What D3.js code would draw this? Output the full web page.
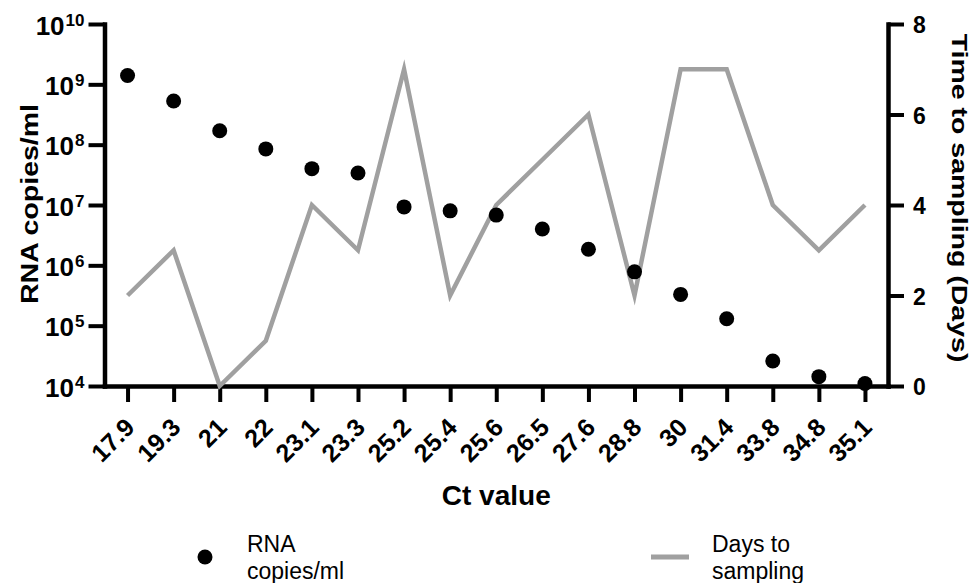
<!DOCTYPE html>
<html>
<head>
<meta charset="utf-8">
<script src="https://cdn.jsdelivr.net/npm/d3@7"></script>
<style>
  html, body { margin: 0; padding: 0; background: #fff; }
  svg { display: block; }
  text { font-family: "Liberation Sans", Arial, sans-serif; fill: #000; }
</style>
</head>
<body>
<svg id="chart" width="976" height="583"></svg>
<script>
// ---- data ----
const ctValues = ["17.9","19.3","21","22","23.1","23.3","25.2","25.4","25.6","26.5","27.6","28.8","30","31.4","33.8","34.8","35.1"];
const rnaCopies = [1.4e9, 5.3e8, 1.7e8, 8.5e7, 4.0e7, 3.4e7, 9.3e6, 8.0e6, 6.8e6, 4.0e6, 1.85e6, 7.8e5, 3.3e5, 1.3e5, 2.6e4, 1.43e4, 1.1e4];
const daysToSampling = [2, 3, 0, 1, 4, 3, 7, 2, 4, 5, 6, 2, 7, 7, 4, 3, 4];
const leftTickExponents = [4, 5, 6, 7, 8, 9, 10];
const rightTicks = [0, 2, 4, 6, 8];
const legendLabels = [["RNA", "copies/ml"], ["Days to", "sampling"]];
const axisTitles = { x: "Ct value", left: "RNA copies/ml", right: "Time to sampling (Days)" };

// ---- layout ----
const plotLeft = 104.5, plotRight = 888, plotTop = 24, plotBottom = 386;
const lineColor = "#a0a0a0";
const tickLen = 16;

const svg = d3.select("#chart");
svg.append("rect").attr("width", 976).attr("height", 583).attr("fill", "#fff");

const x = d3.scalePoint().domain(ctValues).range([plotLeft, plotRight]).padding(0.5);
const yL = d3.scaleLog().domain([1e4, 1e10]).range([plotBottom, plotTop]);
const yR = d3.scaleLinear().domain([0, 8]).range([plotBottom, plotTop]);

function styleAxis(g) {
  g.select(".domain").attr("stroke", "#000").attr("stroke-width", 4.5).attr("stroke-linecap", "square");
  g.selectAll(".tick line").attr("stroke", "#000").attr("stroke-width", 4);
}

// X axis
const gx = svg.append("g").attr("transform", `translate(0,${plotBottom})`)
  .call(d3.axisBottom(x).tickSize(tickLen).tickSizeOuter(0).tickFormat(""));
styleAxis(gx);
gx.selectAll(".tick").each(function(d) {
  d3.select(this).append("text")
    .attr("transform", "translate(8,43) rotate(-45)")
    .attr("text-anchor", "end")
    .attr("font-size", 25)
    .attr("font-weight", "bold")
    .attr("fill", "#000")
    .text(d);
});

// Left axis (log)
const gl = svg.append("g").attr("transform", `translate(${plotLeft},0)`)
  .call(d3.axisLeft(yL).tickValues(leftTickExponents.map(e => Math.pow(10, e))).tickSize(tickLen).tickSizeOuter(0).tickFormat(""));
styleAxis(gl);
gl.selectAll(".tick").each(function(d) {
  const t = d3.select(this).append("text")
    .attr("x", -20).attr("y", 10)
    .attr("text-anchor", "end")
    .attr("font-weight", "bold")
    .attr("fill", "#000");
  t.append("tspan").attr("font-size", 26).text("10");
  t.append("tspan").attr("font-size", 17).attr("dy", -9).attr("dx", 1).text(String(Math.round(Math.log10(d))));
});

// Right axis
const gr = svg.append("g").attr("transform", `translate(${plotRight},0)`)
  .call(d3.axisRight(yR).tickValues(rightTicks).tickSize(tickLen).tickSizeOuter(0).tickFormat(""));
styleAxis(gr);
gr.selectAll(".tick").append("text")
  .attr("x", 25).attr("y", 8.5)
  .attr("text-anchor", "start")
  .attr("font-size", 23)
  .attr("font-weight", "bold")
  .attr("fill", "#000")
  .text(d => d);

// Days line
const line = d3.line().x((d, i) => x(ctValues[i])).y(d => yR(d));
svg.append("path").datum(daysToSampling)
  .attr("d", line)
  .attr("fill", "none")
  .attr("stroke", lineColor)
  .attr("stroke-width", 4.5)
  .attr("stroke-linejoin", "miter")
  .attr("stroke-miterlimit", 10);

// RNA dots
svg.append("g").selectAll("circle").data(rnaCopies).join("circle")
  .attr("cx", (d, i) => x(ctValues[i]))
  .attr("cy", d => yL(d))
  .attr("r", 7.5)
  .attr("fill", "#000");

// Titles
svg.append("text").attr("x", (plotLeft + plotRight) / 2).attr("y", 505)
  .attr("text-anchor", "middle").attr("font-size", 28).attr("font-weight", "bold")
  .text(axisTitles.x);
svg.append("text").attr("transform", `translate(38,204) rotate(-90) scale(1,0.82)`)
  .attr("text-anchor", "middle").attr("font-size", 28.5).attr("font-weight", "bold")
  .text(axisTitles.left);
svg.append("text").attr("transform", `translate(952,198) rotate(90) scale(1,0.8)`)
  .attr("text-anchor", "middle").attr("font-size", 28.5).attr("font-weight", "bold")
  .text(axisTitles.right);

// Legend
const lg = svg.append("g");
lg.append("circle").attr("cx", 205).attr("cy", 557).attr("r", 7.5).attr("fill", "#000");
const t1 = lg.append("text").attr("x", 247).attr("y", 552).attr("font-size", 23);
t1.append("tspan").attr("x", 247).text(legendLabels[0][0]);
t1.append("tspan").attr("x", 247).attr("y", 579).text(legendLabels[0][1]);
lg.append("line").attr("x1", 651).attr("x2", 689).attr("y1", 557).attr("y2", 557)
  .attr("stroke", lineColor).attr("stroke-width", 5);
const t2 = lg.append("text").attr("x", 712).attr("y", 552).attr("font-size", 23);
t2.append("tspan").attr("x", 712).text(legendLabels[1][0]);
t2.append("tspan").attr("x", 712).attr("y", 579).text(legendLabels[1][1]);
</script>
</body>
</html>
